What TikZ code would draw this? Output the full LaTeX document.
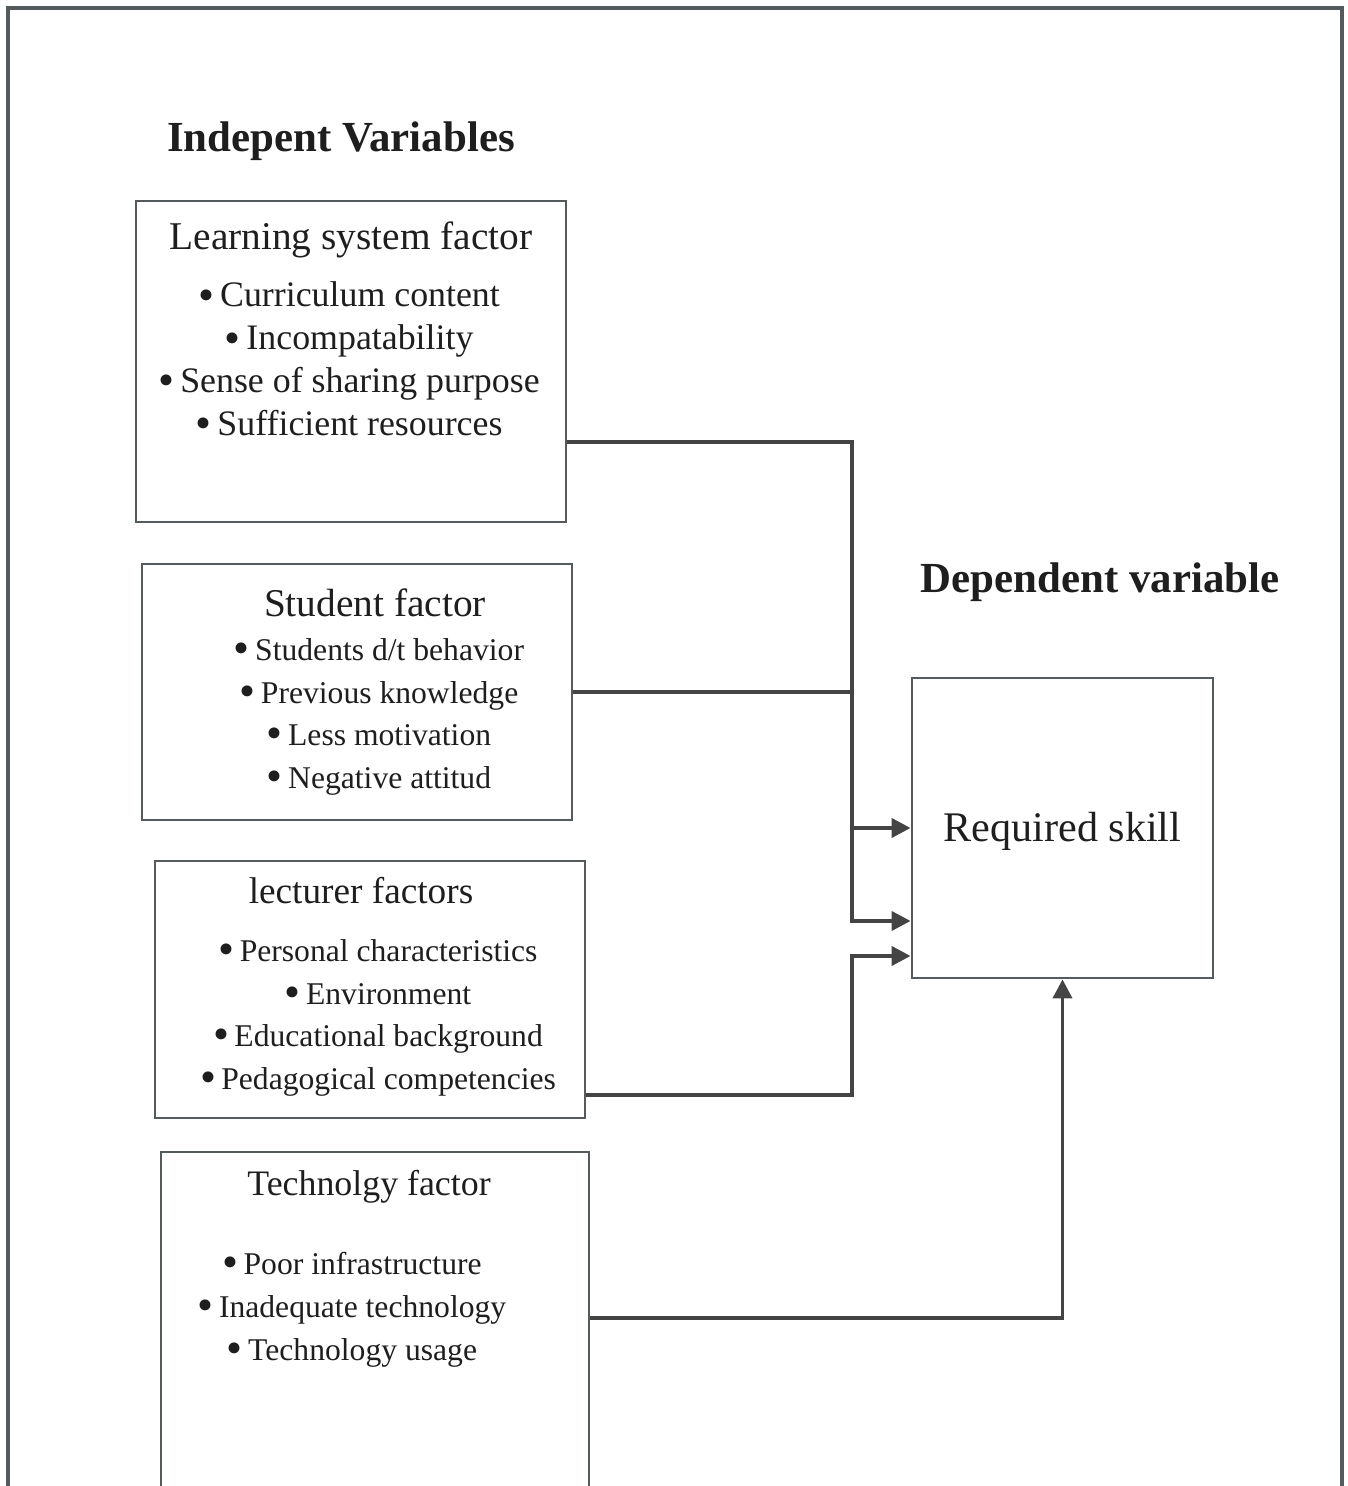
\documentclass[tikz,border=0pt]{standalone}
\usepackage{fontspec}
\setmainfont{Liberation Serif}
\usepackage{tikz}
\usetikzlibrary{arrows.meta, positioning, calc}
\usepackage{xcolor}
\definecolor{framegray}{RGB}{85,90,92}
\definecolor{linegray}{RGB}{68,68,68}
\definecolor{inkgray}{RGB}{30,30,30}
\newcommand{\bul}{\raisebox{-0.2ex}[0pt][0pt]{\fontsize{13}{12}\selectfont\textbullet}\,}

\begin{document}
\begin{tikzpicture}[
  factorbox/.style={draw=framegray, line width=0.8pt, inner sep=0pt},
  boxtitle/.style={text=inkgray, font=\fontsize{11.2}{13}\selectfont},
  itemlist/.style={text=inkgray, align=center, inner sep=0pt},
  heading/.style={text=inkgray, font=\fontsize{12.2}{14}\selectfont\bfseries},
  conn/.style={draw=linegray, line width=1.1pt},
  arr/.style={conn, -{Triangle[length=0.19cm, width=0.19cm]}}
]
  \useasboundingbox (0,0) rectangle (13.47,14.86);
  \clip (0,0) rectangle (13.47,14.86);
  \draw[framegray, line width=1pt] (0.08,-0.2) -- (0.08,14.78) -- (13.42,14.78) -- (13.42,-0.2);

  % headings
  \node[heading] (indep) at (3.41,13.45) {Indepent Variables};
  \node[heading] (dep) at (11.00,9.04) {Dependent variable};

  % factor boxes
  \node[factorbox, minimum width=4.30cm, minimum height=3.21cm] (learn) at (3.51,11.245) {};
  \node[factorbox, minimum width=4.30cm, minimum height=2.56cm] (stud) at (3.57,7.94) {};
  \node[factorbox, minimum width=4.30cm, minimum height=2.57cm] (lect) at (3.70,4.965) {};
  \node[factorbox, minimum width=4.28cm, minimum height=3.84cm] (tech) at (3.75,1.42) {};
  \node[factorbox, minimum width=3.01cm, minimum height=3.00cm] (skill) at (10.625,6.58) {};

  % box texts
  \node[boxtitle] (learnT) at (3.51,12.46) {Learning system factor};
  \node[itemlist, font=\fontsize{10.2}{12.2}\selectfont] (learnL) at (3.49,11.27)
    {\bul Curriculum content\\ \bul Incompatability\\ \bul Sense of sharing purpose\\ \bul Sufficient resources};
  \node[boxtitle] (studT) at (3.75,8.83) {Student factor};
  \node[itemlist, font=\fontsize{9}{12.2}\selectfont] (studL) at (3.79,7.69)
    {\bul Students d/t behavior\\ \bul Previous knowledge\\ \bul Less motivation\\ \bul Negative attitud};
  \node[boxtitle, font=\fontsize{10.6}{13}\selectfont] (lectT) at (3.61,5.95) {lecturer factors};
  \node[itemlist, font=\fontsize{9}{12.2}\selectfont] (lectL) at (3.78,4.68)
    {\bul Personal characteristics\\ \bul Environment\\ \bul Educational background\\ \bul Pedagogical competencies};
  \node[boxtitle, font=\fontsize{10.2}{13}\selectfont] (techT) at (3.69,2.99) {Technolgy factor};
  \node[itemlist, font=\fontsize{9}{12.2}\selectfont] (techL) at (3.52,1.765)
    {\bul Poor infrastructure\\ \bul Inadequate technology\\ \bul Technology usage};
  \node[text=inkgray, font=\fontsize{12}{14}\selectfont] (skillT) at ([yshift=-0.03cm]skill.center) {Required skill};

  % connectors
  \coordinate (bus) at (8.52,0);
  \coordinate (inA) at ([yshift=-0.93cm]skill.west);
  \coordinate (inC) at ([yshift=-1.28cm]skill.west);
  \draw[arr] ([yshift=-0.805cm]learn.east) -| (bus |- inA) -- (inA);
  \draw[arr] (stud.east) -- (bus |- stud.east) |- (skill.west);
  \draw[arr] ([yshift=-1.055cm]lect.east) -| (bus |- inC) -- (inC);
  \draw[arr] ([yshift=0.26cm]tech.east) -| (skill.south);
\end{tikzpicture}
\end{document}
